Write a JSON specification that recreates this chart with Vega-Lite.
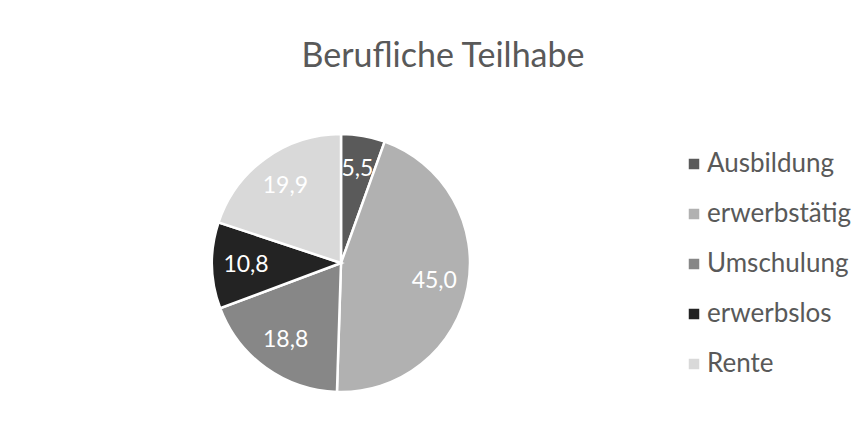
{
  "$schema": "https://vega.github.io/schema/vega-lite/v6.json",
  "autosize": "none",
  "width": 300,
  "height": 300,
  "padding": {"left": 191, "top": 113, "right": 373, "bottom": 28},
  "background": "white",
  "title": {
    "text": "Berufliche Teilhabe",
    "font": "Lato",
    "fontSize": 34,
    "fontWeight": "normal",
    "color": "#595959",
    "anchor": "middle",
    "baseline": "alphabetic",
    "offset": 12,
    "dx": 102
  },
  "data": {
    "values": [
      {"nr": 1, "Kategorie": "Ausbildung", "Anteil": 5.5},
      {"nr": 2, "Kategorie": "erwerbstätig", "Anteil": 45.0},
      {"nr": 3, "Kategorie": "Umschulung", "Anteil": 18.8},
      {"nr": 4, "Kategorie": "erwerbslos", "Anteil": 10.8},
      {"nr": 5, "Kategorie": "Rente", "Anteil": 19.9}
    ]
  },
  "encoding": {
    "theta": {"field": "Anteil", "type": "quantitative", "stack": true},
    "order": {"field": "nr", "type": "quantitative", "sort": "ascending"},
    "color": {
      "field": "Kategorie",
      "type": "nominal",
      "sort": ["Ausbildung", "erwerbstätig", "Umschulung", "erwerbslos", "Rente"],
      "scale": {
        "domain": ["Ausbildung", "erwerbstätig", "Umschulung", "erwerbslos", "Rente"],
        "range": ["#5a5a5a", "#b1b1b1", "#878787", "#232323", "#d9d9d9"]
      },
      "legend": {
        "title": null,
        "orient": "none",
        "legendX": 490,
        "legendY": 38,
        "padding": 0,
        "symbolType": "square",
        "symbolSize": 110,
        "symbolStrokeWidth": 0,
        "labelFont": "Lato",
        "labelFontSize": 26,
        "labelColor": "#595959",
        "labelOffset": 0,
        "rowPadding": 24,
        "labelLimit": 300
      }
    }
  },
  "layer": [
    {
      "mark": {"type": "arc", "outerRadius": 129, "stroke": "white", "strokeWidth": 2.5}
    },
    {
      "mark": {"type": "text", "radius": 95, "font": "Lato", "fontSize": 23, "color": "white", "align": "center", "baseline": "middle"},
      "encoding": {
        "text": {"field": "Anteil", "type": "quantitative", "format": ".1f"},
        "color": {"value": "white"}
      }
    }
  ],
  "config": {
    "view": {"stroke": null},
    "locale": {
      "number": {"decimal": ",", "thousands": ".", "grouping": [3], "currency": ["", " €"]}
    }
  }
}
